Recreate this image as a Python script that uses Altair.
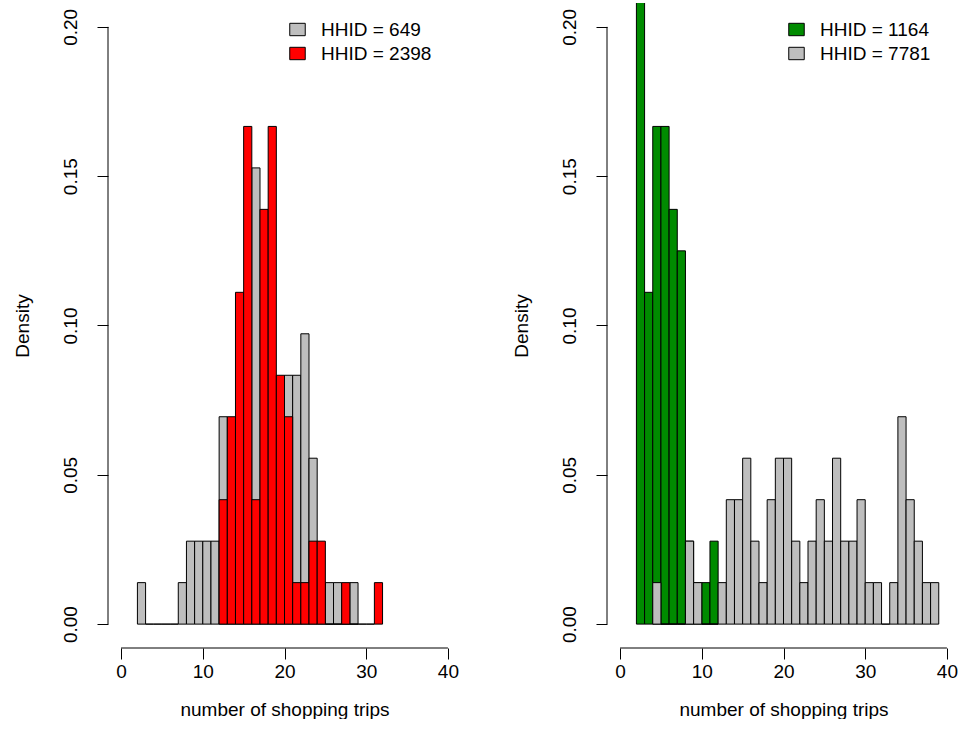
import altair as alt
import pandas as pd

FONT = "Liberation Sans"
FS = 19
W, H = 353, 645

x_ticks = [0, 10, 20, 30, 40]
y_ticks = [0.0, 0.05, 0.10, 0.15, 0.20]
x_domain = [-1.6, 41.6]
y_domain = [-0.008, 0.208]

# counts per unit-wide bin, starting at the given left edge
hh649_label = "HHID = 649"
hh649_start = 2
hh649_counts = [1, 0, 0, 0, 0, 1, 2, 2, 2, 2, 5, 3, 4, 4, 11, 3, 3, 2, 6, 6, 7, 4, 1, 1, 1, 0, 1]
hh649_total = 72

hh2398_label = "HHID = 2398"
hh2398_start = 12
hh2398_counts = [3, 5, 8, 12, 3, 10, 12, 6, 5, 1, 1, 2, 2, 0, 0, 1, 0, 0, 0, 1]
hh2398_total = 72

hh1164_label = "HHID = 1164"
hh1164_start = 2
hh1164_counts = [15, 8, 12, 12, 10, 9, 2, 1, 1, 2]
hh1164_total = 72

hh7781_label = "HHID = 7781"
hh7781_start = 4
hh7781_counts = [1, 0, 0, 0, 2, 1, 0, 0, 1, 3, 3, 4, 2, 1, 3, 4, 4, 2, 1, 2, 3, 2, 4, 2, 2, 3, 1, 1, 0, 1, 5, 3, 2, 1, 1]
hh7781_total = 72

GREY = "#BEBEBE"
RED = "#FF0000"
GREEN = "#008B00"


def series_df(label, start, counts, total):
    rows = []
    for i, c in enumerate(counts):
        rows.append({"series": label, "x0": start + i, "x1": start + i + 1,
                     "count": c, "total": total})
    return pd.DataFrame(rows)


xs = alt.Scale(domain=x_domain, nice=False, zero=False)
ys = alt.Scale(domain=y_domain, nice=False, zero=False)

xaxis = alt.Axis(values=x_ticks, domain=False, grid=False, ticks=True, tickSize=11,
                 tickColor="black", tickWidth=1, labelFont=FONT, labelFontSize=FS,
                 labelColor="black", labelPadding=3, labelFlush=False, labelOverlap=False,
                 labelBaseline="top",
                 title="number of shopping trips", titleFont=FONT, titleFontSize=FS,
                 titleFontWeight="normal", titleColor="black", titleY=61,
                 titleBaseline="middle")

yaxis = alt.Axis(values=y_ticks, format=".2f", domain=False, grid=False, ticks=True,
                 tickSize=11, tickColor="black", tickWidth=1, labelFont=FONT,
                 labelFontSize=FS, labelColor="black", labelAngle=270,
                 labelAlign="center", labelBaseline="middle", labelPadding=27,
                 labelOverlap=False, labelFlush=False,
                 title="Density", titleFont=FONT, titleFontSize=FS,
                 titleFontWeight="normal", titleColor="black", titleAngle=270,
                 titleX=-86, titleY=H / 2, titleAlign="center", titleBaseline="middle")


def legend():
    return alt.Legend(orient="none", legendX=180, legendY=17, title=None,
                      symbolType="M-1,-0.8H1V0.8H-1Z", symbolSize=240,
                      symbolStrokeColor="black", symbolStrokeWidth=1, symbolOpacity=1,
                      labelFont=FONT, labelFontSize=FS, labelColor="black",
                      labelOffset=14, rowPadding=4, padding=0)


def bars(df, cscale):
    return alt.Chart(df).transform_calculate(
        density="datum.count / (datum.total * (datum.x1 - datum.x0))"
    ).mark_rect(stroke="black", strokeWidth=1, clip=True, opacity=1).encode(
        x=alt.X("x0:Q", scale=xs, axis=xaxis),
        x2="x1:Q",
        y=alt.Y("density:Q", scale=ys, axis=yaxis),
        y2=alt.datum(0),
        color=alt.Color("series:N", scale=cscale, legend=legend()),
    )


def axis_lines():
    xr = alt.Chart(pd.DataFrame({"lo": [x_ticks[0]], "hi": [x_ticks[-1]]})).mark_rule(
        color="black", strokeWidth=1).encode(
        x=alt.X("lo:Q", scale=xs, axis=xaxis), x2="hi:Q", y=alt.value(H))
    yr = alt.Chart(pd.DataFrame({"lo": [y_ticks[0]], "hi": [y_ticks[-1]]})).mark_rule(
        color="black", strokeWidth=1).encode(
        y=alt.Y("lo:Q", scale=ys, axis=yaxis), y2="hi:Q", x=alt.value(0))
    return xr, yr


left_scale = alt.Scale(domain=[hh649_label, hh2398_label], range=[GREY, RED])
right_scale = alt.Scale(domain=[hh1164_label, hh7781_label], range=[GREEN, GREY])

lx, ly = axis_lines()
left = alt.layer(
    bars(series_df(hh649_label, hh649_start, hh649_counts, hh649_total), left_scale),
    bars(series_df(hh2398_label, hh2398_start, hh2398_counts, hh2398_total), left_scale),
    lx, ly,
).properties(width=W, height=H)

rx, ry = axis_lines()
right = alt.layer(
    bars(series_df(hh1164_label, hh1164_start, hh1164_counts, hh1164_total), right_scale),
    bars(series_df(hh7781_label, hh7781_start, hh7781_counts, hh7781_total), right_scale),
    rx, ry,
).properties(width=W, height=H)

chart = alt.hconcat(left, right, spacing=51).resolve_scale(
    color="independent", x="independent", y="independent"
).properties(
    padding={"left": 13, "top": 3, "right": 0, "bottom": 0},
    background="white",
).configure_view(strokeWidth=0)

chart.save("out.html", embed_options={"renderer": "svg", "actions": False})
